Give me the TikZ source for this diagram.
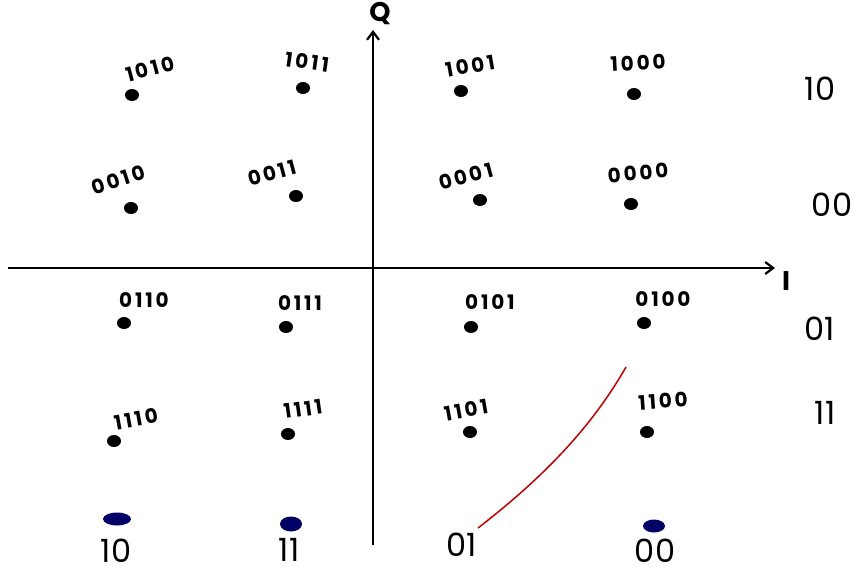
\documentclass[tikz,border=0pt]{standalone}
\usepackage{fontspec}
\setmainfont{Poppins}
\newfontfamily\lblfont{Poppins}[LetterSpace=14]
\usetikzlibrary{arrows.meta,shapes.geometric}
\begin{document}
\begin{tikzpicture}[x=1pt,y=-1pt,
  dot/.style={ellipse,fill=black,inner sep=0pt,minimum width=14pt,minimum height=12pt},
  lbl/.style={font=\lblfont\fontsize{20}{20}\selectfont\bfseries,inner sep=0pt},
  side/.style={font=\fontsize{32}{32}\selectfont,inner sep=0pt},
  scrib/.style={ellipse,fill=blue!40!black,inner sep=0pt,minimum width=28pt,minimum height=13pt},
  axis/.style={line width=2.2pt,-{Straight Barb[length=8pt,width=12pt]}}]
\useasboundingbox (0,0) rectangle (857,574);
% axes
\coordinate (xl) at (8,268);
\coordinate (xr) at (775,268);
\coordinate (yb) at (373,545);
\coordinate (yt) at (373,30);
\draw[axis] (xl) -- (xr);
\draw[axis] (yb) -- (yt);
\node[font=\fontsize{27}{27}\selectfont\bfseries,inner sep=0pt] (Q) at (380,14) {Q};
\node[font=\fontsize{27}{27}\selectfont\bfseries,inner sep=0pt] (I) at (786,281) {I};
% dots
\node[dot] (d1010) at (132,95) {};
\node[dot] (d1011) at (303,88) {};
\node[dot] (d1001) at (461,91) {};
\node[dot] (d1000) at (634,94) {};
\node[dot] (d0010) at (131,208) {};
\node[dot] (d0011) at (296,196) {};
\node[dot] (d0001) at (480,200) {};
\node[dot] (d0000) at (631,204) {};
\node[dot] (d0110) at (124,323) {};
\node[dot] (d0111) at (286,327) {};
\node[dot] (d0101) at (471,327) {};
\node[dot] (d0100) at (644,323) {};
\node[dot] (d1110) at (114,441) {};
\node[dot] (d1111) at (288,434) {};
\node[dot] (d1101) at (470,432) {};
\node[dot] (d1100) at (647,432) {};
% labels
\node[lbl,rotate=15] (l1010) at (150,69) {1010};
\node[lbl,rotate=-8] (l1011) at (307,62) {1011};
\node[lbl,rotate=10] (l1001) at (470,66) {1001};
\node[lbl,rotate=3] (l1000) at (638,63) {1000};
\node[lbl,rotate=18] (l0010) at (118,180) {0010};
\node[lbl,rotate=15] (l0011) at (272,173) {0011};
\node[lbl,rotate=15] (l0001) at (466,176) {0001};
\node[lbl,rotate=5] (l0000) at (638,173) {0000};
\node[lbl] (l0110) at (144,300) {0110};
\node[lbl] (l0111) at (300,303) {0111};
\node[lbl] (l0101) at (490,302) {0101};
\node[lbl] (l0100) at (663,299) {0100};
\node[lbl,rotate=10] (l1110) at (136,419) {1110};
\node[lbl,rotate=8] (l1111) at (303,409) {1111};
\node[lbl,rotate=10] (l1101) at (466,410) {1101};
\node[lbl,rotate=4] (l1100) at (663,401) {1100};
% side labels
\node[side] (r1) at (820,89) {10};
\node[side] (r2) at (832,205) {00};
\node[side] (r3) at (820,329) {01};
\node[side] (r4) at (825,413) {11};
\node[side] (b1) at (116,551) {10};
\node[side] (b2) at (289,550) {11};
\node[side] (b3) at (462,545) {01};
\node[side] (b4) at (655,551) {00};
% scribbles
\node[scrib] (s1) at (117,519) {};
\node[scrib,minimum width=22pt,minimum height=15pt] (s2) at (291,524) {};
\node[scrib,minimum width=22pt] (s4) at (654,526) {};
% red curve
\coordinate (c0) at (478,528);
\coordinate (c1) at (626,367);
\draw[red!75!black,line width=1.5pt] (c0) .. controls (540,480) and (590,430) .. (c1);
\end{tikzpicture}
\end{document}
